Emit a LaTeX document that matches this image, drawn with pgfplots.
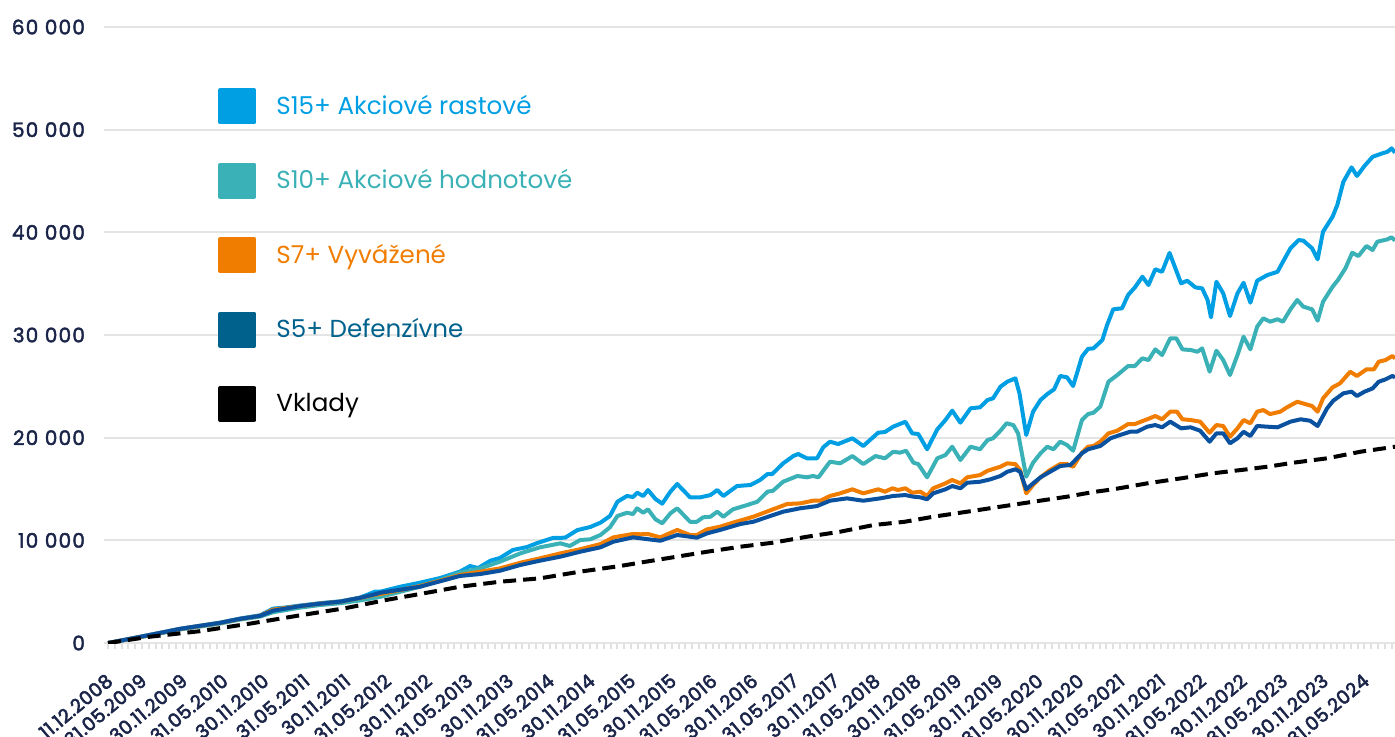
\documentclass[border=0pt]{standalone}
\usepackage{pgfplots}
\pgfplotsset{compat=1.18}
\usepackage{fontspec}
\setmainfont{Poppins}
\newfontfamily\tickfont[LetterSpace=3,FakeBold=3]{Poppins}
\newfontfamily\ytickfont[LetterSpace=6,FakeBold=2.2]{Poppins}
\definecolor{c15}{HTML}{009FE3}
\definecolor{c10}{HTML}{3AB1B6}
\definecolor{c7}{HTML}{F07D00}
\definecolor{c5}{HTML}{00628C}
\definecolor{c5line}{HTML}{0A52A0}
\definecolor{navy}{HTML}{1B2549}
\definecolor{gridc}{HTML}{E4E4E4}
\definecolor{tickc}{HTML}{E0E0E0}
\begin{document}
\begin{tikzpicture}
\begin{axis}[
  scale only axis, width=645.5pt, height=308pt,
  xmin=-0.6, xmax=189.5, ymin=0, ymax=60000,
  scaled y ticks=false,
  axis x line*=bottom, axis y line*=left,
  y axis line style={draw=none},
  x axis line style={draw=gridc, line width=1.3pt},
  ymajorgrids, grid style={draw=gridc, line width=0.9pt},
  ytick={0,10000,20000,30000,40000,50000,60000},
  yticklabels={0,10 000,20 000,30 000,40 000,50 000,60 000},
  ytick style={draw=none},
  yticklabel style={font=\ytickfont\fontsize{10}{12}\selectfont, text=navy, anchor=east, xshift=-3pt},
  xtick={0,5,11,17,23,29,35,41,47,53,59,65,71,77,83,89,95,101,107,113,119,125,131,137,143,149,155,161,167,173,179,185},
  xticklabels={11.12.2008,31.05.2009,30.11.2009,31.05.2010,30.11.2010,31.05.2011,30.11.2011,31.05.2012,30.11.2012,31.05.2013,30.11.2013,31.05.2014,30.11.2014,31.05.2015,30.11.2015,31.05.2016,30.11.2016,31.05.2017,30.11.2017,31.05.2018,30.11.2018,31.05.2019,30.11.2019,31.05.2020,30.11.2020,31.05.2021,30.11.2021,31.05.2022,30.11.2022,31.05.2023,30.11.2023,31.05.2024},
  minor xtick={0,1,...,189},
  xtick style={draw=tickc, line width=1pt},
  tick align=outside, major tick length=3pt, minor tick length=3pt,
  xticklabel style={font=\tickfont\fontsize{9.4}{11}\selectfont, text=navy, xshift=-1.5pt, yshift=-11.5pt, rotate=40, anchor=north east, inner sep=0pt},
  legend cell align=left,
  legend style={at={(0,1)}, anchor=north west, xshift=57pt, yshift=-30.5pt, draw=none, fill=none,
    inner sep=0pt, row sep=19.2pt, font=\fontsize{12.3}{14}\selectfont,
    /tikz/every odd column/.append style={column sep=8pt}},
  every axis plot/.append style={line width=2pt, line join=round},
]
\addlegendimage{legend image code/.code={\fill[c15] (0pt,-8pt) rectangle (17pt,8pt);}}
\addlegendentry{\textcolor{c15}{S15+ Akciové rastové}}
\addlegendimage{legend image code/.code={\fill[c10] (0pt,-8pt) rectangle (17pt,8pt);}}
\addlegendentry{\textcolor{c10}{S10+ Akciové hodnotové}}
\addlegendimage{legend image code/.code={\fill[c7] (0pt,-8pt) rectangle (17pt,8pt);}}
\addlegendentry{\textcolor{c7}{S7+ Vyvážené}}
\addlegendimage{legend image code/.code={\fill[c5] (0pt,-8pt) rectangle (17pt,8pt);}}
\addlegendentry{\textcolor{c5}{S5+ Defenzívne}}
\addlegendimage{legend image code/.code={\fill[black] (0pt,-8pt) rectangle (17pt,8pt);}}
\addlegendentry{\textcolor{black}{Vklady}}

% S15+
\addplot[c15, forget plot] coordinates {
(0,0) (2,250) (4.7,600) (7.7,1000) (10.6,1380) (13.5,1680) (16.5,1980) (19.4,2380) (22.4,2700) (24.3,3350) (26,3450) (28.3,3650) (31.2,3880) (34.2,4060) (37.1,4420) (39.3,5000) (40.1,5000) (43.0,5480) (45.9,5870) (48.9,6330) (51.8,6950) (53.3,7500) (54.5,7300) (56.3,8020) (57.7,8280) (59.6,9060) (61.7,9350) (63.2,9740) (65.5,10230) (67.3,10260) (69.1,11000) (71.0,11300) (72.5,11720) (73.9,12370) (75.0,13760) (76.4,14320) (77.3,14220) (77.9,14640) (78.8,14320) (79.5,14900) (80.6,14030) (81.6,13570) (82.8,14740) (83.8,15490) (85.7,14190) (87.2,14190) (88.7,14410) (89.7,14900) (90.6,14320) (92.6,15290) (94.6,15390) (96.0,15880) (97.1,16460) (97.8,16460) (99.4,17500) (100.9,18210) (101.6,18410) (102.9,17990) (104.4,17990) (105.3,19060) (106.3,19610) (107.5,19380) (109.6,19940) (111.2,19190) (113.4,20490) (114.4,20550) (115.6,21070) (117.4,21550) (118.4,20420) (119.3,20360) (120.6,18870) (122.1,20810) (123.3,21720) (124.3,22630) (125.5,21460) (127.0,22860) (128.4,22960) (129.5,23670) (130.3,23830) (131.4,24960) (132.4,25450) (133.6,25780) (134.2,24320) (135.2,20260) (136.2,22530) (137.3,23670) (138.3,24250) (139.3,24710) (140.2,26010) (141.2,25880) (142.1,25030) (143.4,27890) (144.3,28650) (145.1,28700) (146.4,29510) (147.1,30970) (148.0,32500) (149.3,32600) (150.2,33900) (151.2,34640) (152.3,35680) (153.2,34870) (154.2,36400) (155.2,36160) (156.3,38000) (158.0,35030) (158.9,35290) (160.1,34640) (161.1,34540) (161.9,33410) (162.4,31720) (163.2,35190) (164.2,34060) (165.2,31850) (166.3,34060) (167.2,35090) (168.2,33150) (169.2,35290) (170.7,35840) (172.2,36160) (173.0,37140) (174.1,38440) (175.3,39250) (176.0,39190) (177.3,38440) (178.1,37370) (178.9,40060) (180.3,41520) (181.0,42660) (181.9,44930) (183.1,46330) (183.9,45490) (185.0,46460) (186.2,47360) (187.6,47690) (188.4,47850) (189.0,48180) (189.5,47760)
};
% S10+
\addplot[c10, forget plot] coordinates {
(0,0) (4.7,560) (7.7,940) (10.6,1320) (13.5,1600) (16.5,1900) (19.4,2280) (22.4,2580) (24.3,3000) (28.3,3450) (31.2,3700) (34.2,3880) (37.1,4150) (40.1,4500) (45.9,5480) (48.9,6130) (51.8,6850) (54.8,7270) (57.7,7920) (60.7,8730) (63.6,9320) (66.6,9710) (68.0,9450) (69.5,10030) (71.0,10100) (72.5,10520) (73.9,11270) (75.0,12370) (76.4,12690) (77.3,12560) (77.9,13120) (78.8,12690) (79.5,13020) (80.6,12050) (81.6,11660) (82.8,12630) (83.8,13120) (85.7,11810) (86.7,11810) (87.6,12240) (88.7,12300) (89.7,12790) (90.6,12300) (92.0,13020) (94.1,13440) (95.6,13760) (97.1,14740) (97.9,14830) (99.4,15710) (101.5,16270) (102.9,16140) (103.8,16270) (104.6,16140) (106.3,17660) (107.8,17500) (109.6,18210) (111.2,17430) (113.0,18210) (114.4,17990) (115.6,18630) (116.6,18540) (117.5,18730) (118.6,17560) (119.3,17430) (120.6,16140) (122.1,17990) (123.3,18310) (124.3,19120) (125.5,17820) (127.0,19120) (128.4,18870) (129.5,19770) (130.3,19940) (131.4,20680) (132.3,21400) (133.3,21230) (134.0,20420) (135.2,16200) (136.2,17560) (137.3,18480) (138.3,19120) (139.2,18870) (140.2,19610) (141.2,19290) (142.1,18730) (143.4,21720) (144.3,22300) (145.1,22430) (146.1,23020) (147.3,25450) (148.6,26100) (150.2,26980) (151.2,26980) (152.3,27730) (153.2,27560) (154.2,28600) (155.2,28050) (156.4,29680) (157.3,29680) (158.2,28600) (159.4,28540) (160.4,28370) (161.1,28700) (162.2,26430) (163.2,28470) (164.2,27560) (165.2,26100) (166.3,28050) (167.2,29830) (168.2,28600) (169.2,30810) (170.1,31630) (171.1,31300) (172.2,31530) (173.0,31300) (174.1,32500) (175.1,33410) (176.0,32760) (177.3,32500) (178.1,31390) (178.9,33240) (180.3,34700) (181.1,35360) (182.2,36500) (183.2,38020) (184.1,37690) (185.3,38670) (186.2,38280) (186.9,39090) (188.4,39320) (189.0,39520) (189.5,39190)
};
% S7+
\addplot[c7, forget plot] coordinates {
(0,0) (4.7,590) (7.7,980) (10.6,1370) (13.5,1660) (16.5,1960) (19.4,2340) (22.4,2660) (24.3,3250) (28.3,3600) (31.2,3840) (34.2,4030) (37.1,4390) (39.3,4700) (40.1,4770) (45.9,5550) (48.9,6070) (51.8,6620) (54.8,6950) (57.7,7270) (60.7,7820) (63.6,8250) (66.6,8730) (69.5,9130) (72.5,9640) (74.4,10290) (77.3,10620) (78.4,10590) (79.5,10620) (81.3,10290) (83.8,11010) (85.7,10520) (86.7,10520) (88.2,11070) (90.1,11330) (92.0,11720) (95.0,12300) (97.9,13020) (100.0,13540) (101.9,13600) (103.8,13860) (104.9,13860) (106.3,14320) (107.8,14580) (109.6,14970) (111.2,14580) (113.4,14970) (114.4,14740) (115.5,15070) (116.3,14900) (117.4,15070) (118.4,14640) (119.6,14740) (120.6,14320) (121.5,15070) (123.3,15550) (124.3,15880) (125.5,15550) (126.5,16140) (128.4,16360) (129.5,16780) (131.4,17170) (132.4,17500) (133.6,17430) (134.3,16850) (135.2,14580) (136.2,15390) (137.3,16140) (138.7,16850) (140.2,17430) (141.2,17430) (142.1,17170) (143.4,18540) (144.3,19120) (145.1,19190) (146.1,19610) (147.3,20420) (148.6,20680) (150.2,21330) (151.2,21330) (153.0,21790) (154.2,22110) (155.2,21790) (156.4,22530) (157.4,22530) (158.2,21790) (159.4,21720) (160.8,21560) (162.2,20480) (163.2,21230) (164.2,21140) (165.2,20090) (166.3,20910) (167.2,21720) (168.2,21400) (169.2,22530) (170.1,22690) (171.1,22300) (172.6,22530) (173.6,22960) (175.1,23500) (177.3,23080) (178.1,22530) (178.9,23830) (180.3,24900) (181.4,25290) (182.9,26420) (183.9,26010) (185.3,26660) (186.4,26660) (187.1,27400) (188.1,27560) (189.1,27950) (189.5,27730)
};
% S5+
\addplot[c5line, forget plot] coordinates {
(0,0) (4.7,600) (7.7,990) (10.6,1380) (13.5,1670) (16.5,1970) (19.4,2350) (22.4,2650) (24.3,3150) (28.3,3600) (31.2,3830) (34.2,4030) (37.1,4400) (39.3,4750) (40.1,4900) (45.9,5480) (51.8,6530) (54.8,6720) (57.7,7040) (60.7,7600) (63.6,8020) (66.6,8410) (69.5,8890) (72.5,9320) (74.4,9870) (77.3,10290) (78.4,10200) (81.3,9960) (83.8,10520) (86.7,10260) (88.2,10680) (90.1,11010) (93.1,11590) (95.0,11810) (97.5,12370) (99.4,12790) (101.9,13120) (104.4,13340) (106.3,13860) (108.8,14090) (111.2,13860) (113.7,14090) (115.6,14320) (117.4,14410) (118.6,14250) (119.6,14190) (120.6,14000) (121.5,14580) (123.3,14970) (124.3,15290) (125.5,15070) (126.5,15610) (128.4,15710) (129.9,15940) (131.4,16270) (132.4,16680) (133.6,16920) (134.3,16680) (135.2,14970) (136.2,15550) (137.3,16140) (138.7,16680) (140.2,17240) (141.7,17340) (143.4,18480) (144.3,18870) (146.1,19190) (147.6,19940) (149.0,20260) (150.5,20580) (151.5,20580) (153.0,21070) (154.2,21230) (155.2,21010) (156.4,21560) (158.0,20910) (159.4,21010) (160.8,20680) (162.2,19610) (163.2,20420) (164.2,20420) (165.2,19450) (166.3,19940) (167.2,20580) (168.2,20160) (169.2,21140) (170.7,21070) (172.2,21010) (174.1,21560) (175.6,21790) (177.0,21650) (178.1,21140) (179.5,22860) (180.4,23600) (181.9,24320) (183.1,24480) (183.9,24060) (185.0,24480) (186.2,24800) (187.1,25450) (188.1,25680) (189.1,26010) (189.5,25880)
};
% Vklady
\addplot[black, dash pattern=on 6.5pt off 3.5pt, forget plot] coordinates {
(0,0) (6,600) (13.5,1150) (21,1900) (28.3,2700) (35,3400) (41,4200) (45.9,4770) (51.8,5480) (57.7,5970) (63.6,6300) (69.5,6950) (75.4,7500) (79,7900) (83.2,8350) (88.2,8890) (93.1,9380) (97.9,9770) (102.9,10350) (107.8,10840) (112.7,11490) (117.2,11800) (121.5,12300) (126.5,12790) (131.4,13280) (136.2,13760) (141.2,14250) (145,14700) (148,14970) (153,15550) (158,16040) (162.7,16530) (167.7,16920) (171,17200) (174.5,17560) (179.5,17990) (184.4,18630) (189.5,19120)
};
\end{axis}
\pgfresetboundingbox
\useasboundingbox (-52pt,-46.5pt) rectangle (645.5pt,321.5pt);
\end{tikzpicture}
\end{document}
